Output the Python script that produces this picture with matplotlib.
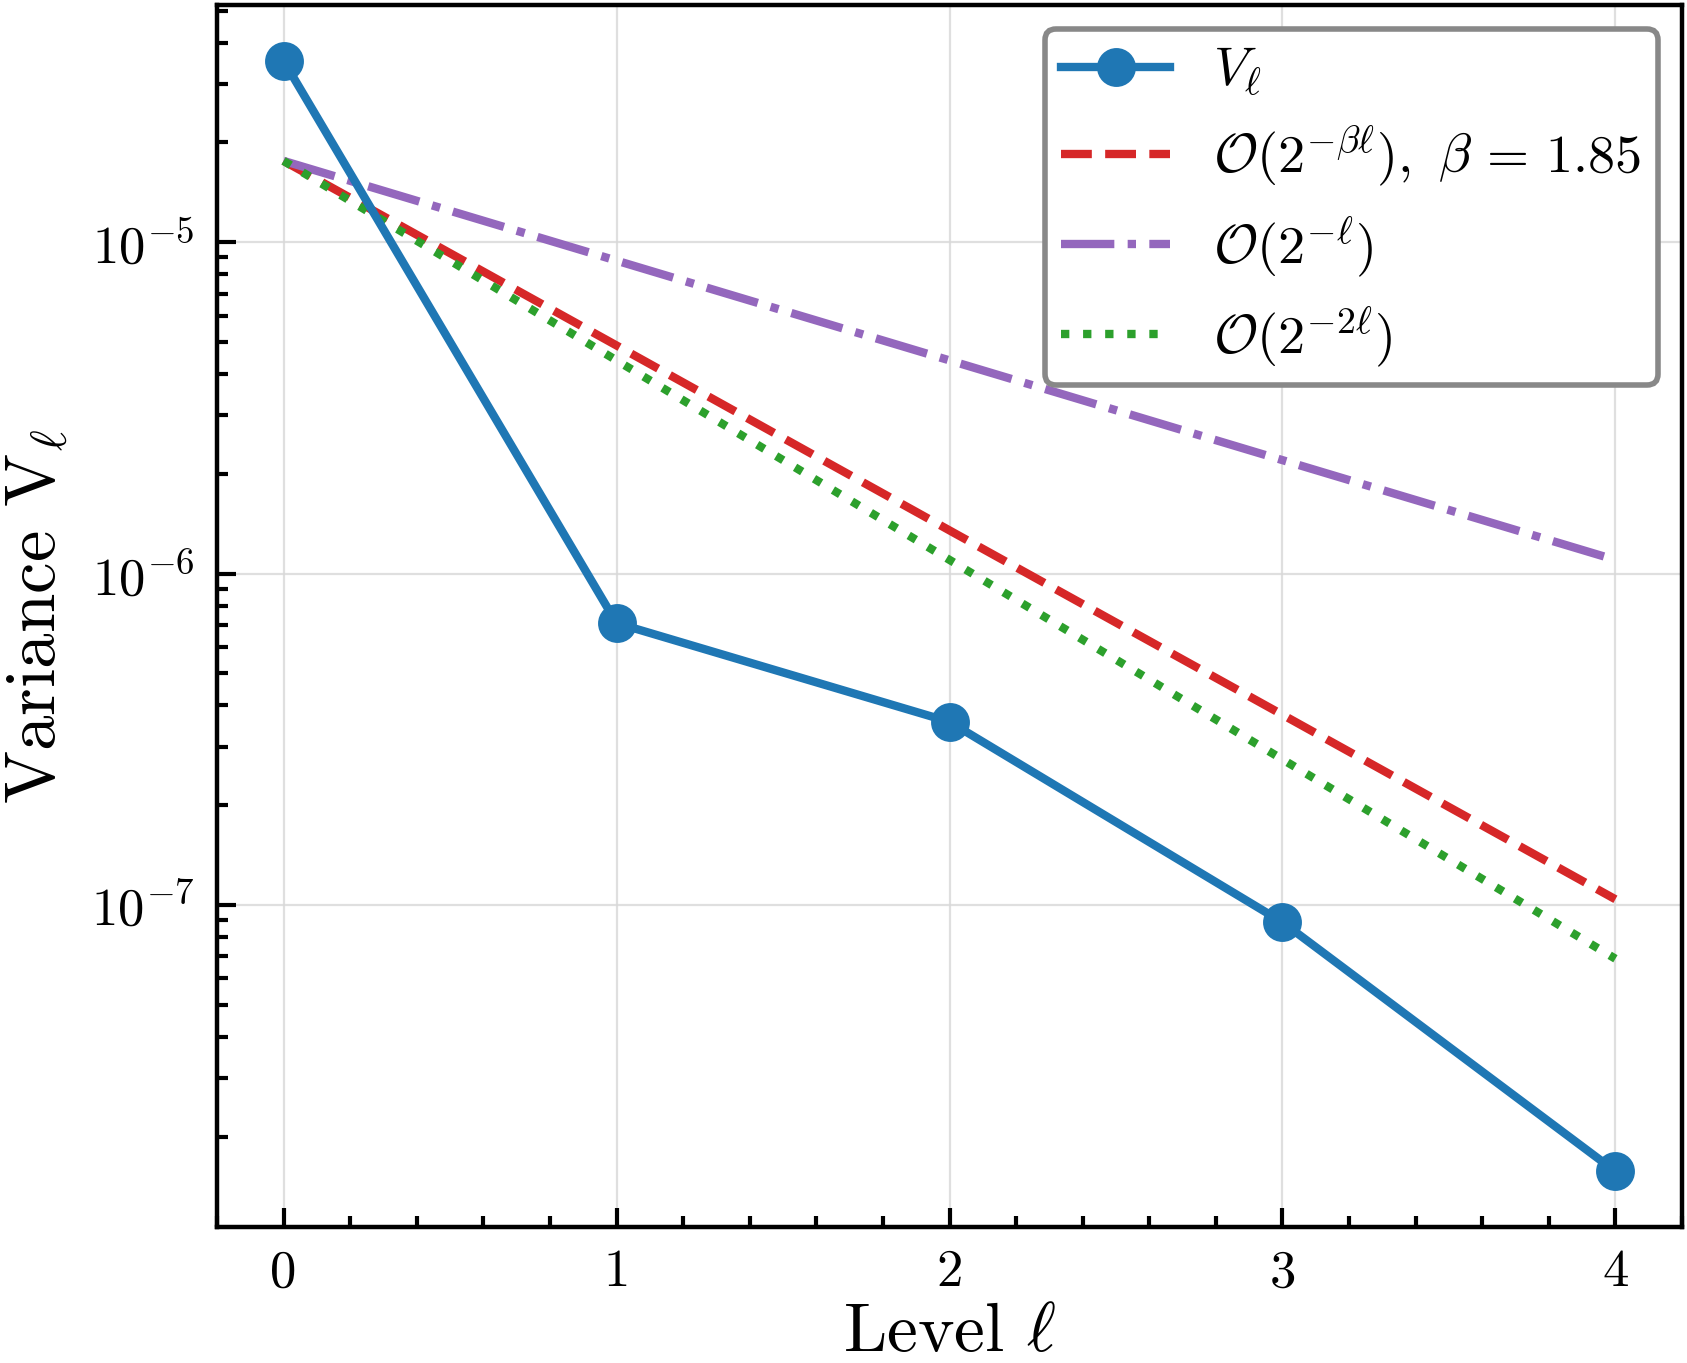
import matplotlib
matplotlib.use("Agg")
import matplotlib.pyplot as plt
from matplotlib.ticker import MultipleLocator, LogLocator

# Data
levels = [0, 1, 2, 3, 4]
variance = [3.53e-5, 7.09e-7, 3.57e-7, 8.87e-8, 1.57e-8]
ref_beta = [1.76e-5, 4.88e-6, 1.35e-6, 3.75e-7, 1.04e-7]   # O(2^{-beta l}), beta=1.85
ref_one = [1.76e-5, 8.8e-6, 4.4e-6, 2.2e-6, 1.1e-6]        # O(2^{-l})
ref_two = [1.76e-5, 4.4e-6, 1.1e-6, 2.75e-7, 6.88e-8]      # O(2^{-2l})
xtick_labels = ["0", "1", "2", "3", "4"]

plt.rcParams["font.family"] = "serif"
plt.rcParams["font.serif"] = ["cmr10", "DejaVu Serif"]
plt.rcParams["mathtext.fontset"] = "cm"
plt.rcParams["axes.formatter.use_mathtext"] = True
plt.rcParams["axes.unicode_minus"] = False

DPI = 200
fig = plt.figure(figsize=(1687 / DPI, 1363 / DPI), dpi=DPI)
ax = fig.add_axes([217 / 1687, 1 - 1227 / 1363, (1682 - 217) / 1687, (1227 - 5) / 1363])

ax.plot(levels, variance, "-o", color="#1f77b4", lw=3, markersize=13, label=r"$V_\ell$", zorder=5)
ax.plot(levels, ref_beta, "--", color="#d62728", lw=3, label=r"$\mathcal{O}(2^{-\beta\ell}),\ \beta\,=\,1.85$")
ax.plot(levels, ref_one, "-.", color="#9467bd", lw=3, label=r"$\mathcal{O}(2^{-\ell})$")
ax.plot(levels, ref_two, ":", color="#2ca02c", lw=3, label=r"$\mathcal{O}(2^{-2\ell})$")

ax.set_yscale("log")
ax.set_xlim(-0.2, 4.2)
ax.set_ylim(10 ** -7.972, 10 ** -4.284)

ax.set_xticks(levels)
ax.set_xticklabels(xtick_labels)
ax.xaxis.set_minor_locator(MultipleLocator(0.2))
ax.yaxis.set_minor_locator(LogLocator(base=10, subs=range(2, 10)))

ax.tick_params(axis="both", which="both", direction="in", top=False, right=False, labelsize=19, width=1.5)
ax.tick_params(axis="both", which="major", length=7, pad=8)
ax.tick_params(axis="both", which="minor", length=4)

for s in ax.spines.values():
    s.set_linewidth(1.6)

ax.grid(True, which="major", color="#d8d8d8", linewidth=0.8, alpha=0.8)

ax.set_xlabel(r"Level $\ell$", fontsize=25, labelpad=2.5)
ax.set_ylabel(r"Variance V$_\ell$", fontsize=25.5, labelpad=8)

leg = ax.legend(loc="upper right", fontsize=19.5, frameon=True, fancybox=True,
                edgecolor="#888888", framealpha=1.0, labelspacing=0.45,
                borderaxespad=0.45, borderpad=0.3)
leg.get_frame().set_linewidth(2)

fig.savefig("out.png", dpi=DPI)
